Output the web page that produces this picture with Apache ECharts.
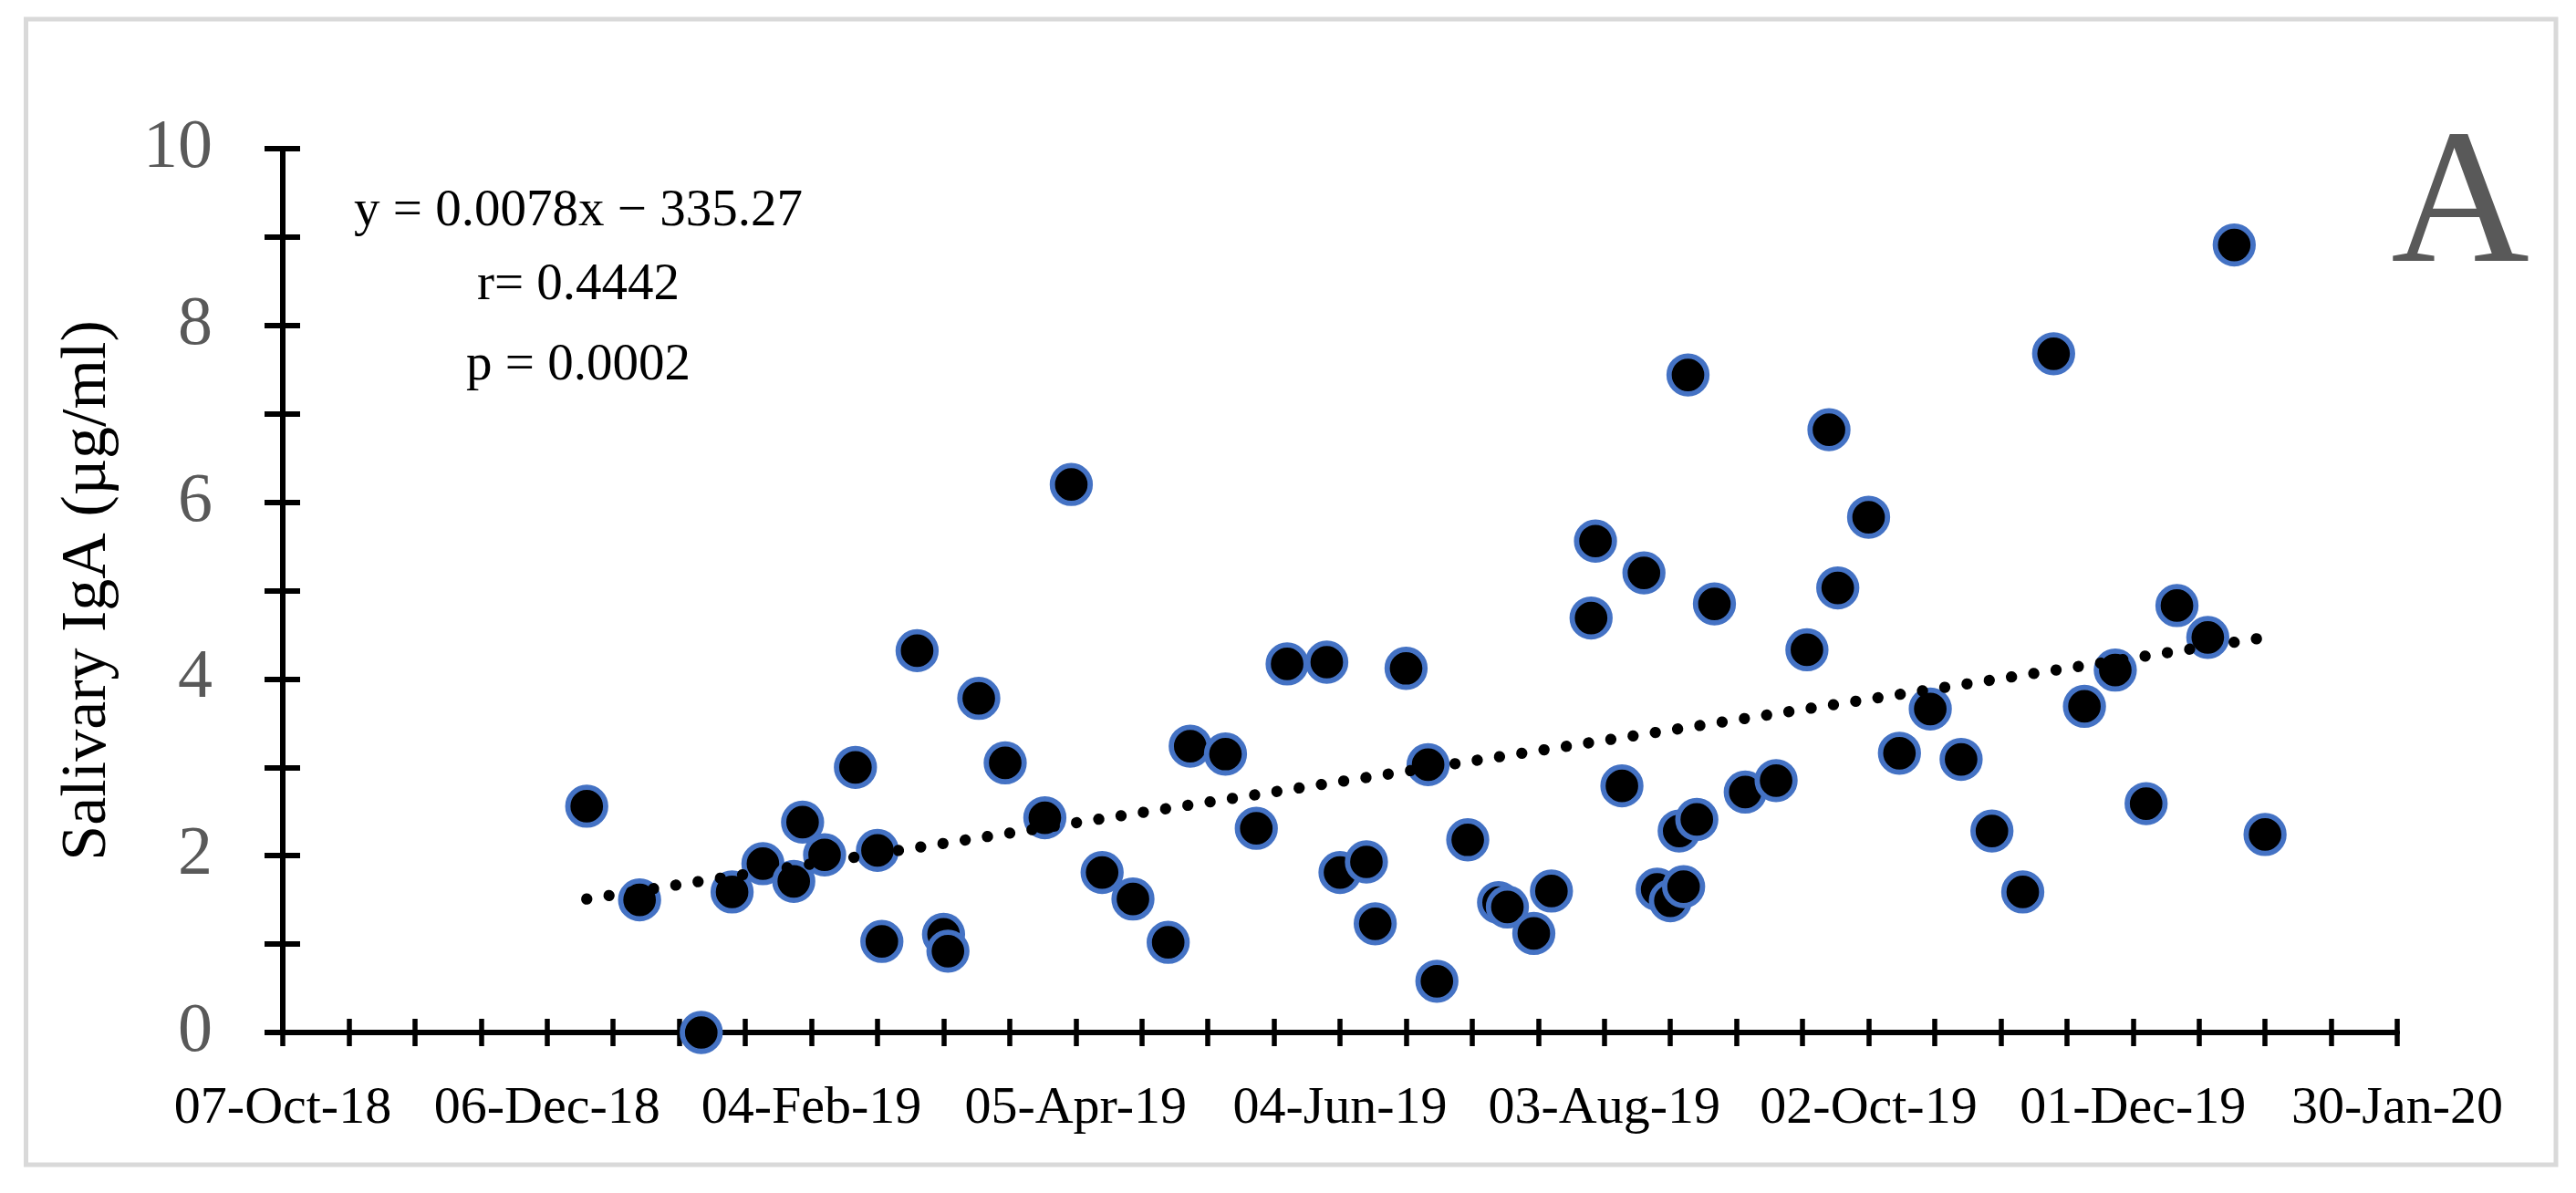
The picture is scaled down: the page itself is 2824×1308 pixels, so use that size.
<!DOCTYPE html>
<html>
<head>
<meta charset="utf-8">
<script src="https://cdn.jsdelivr.net/npm/echarts@6/dist/echarts.min.js"></script>
<style>
  html, body { margin: 0; padding: 0; background: #ffffff; }
  #chart { width: 2824px; height: 1308px; }
</style>
</head>
<body>
<div id="chart"></div>
<script>
// ---- data ----
const originDate = '2018-10-07';
const xTickLabels = ['07-Oct-18', '06-Dec-18', '04-Feb-19', '05-Apr-19', '04-Jun-19', '03-Aug-19', '02-Oct-19', '01-Dec-19', '30-Jan-20'];
const yTickLabels = ['0', '2', '4', '6', '8', '10'];

const sampleDates = ['2018-12-15','2018-12-27','2019-01-10','2019-01-17','2019-01-24','2019-01-31','2019-02-02','2019-02-07','2019-02-14','2019-02-19','2019-02-20','2019-02-28','2019-03-06','2019-03-07','2019-03-14','2019-03-20','2019-03-29','2019-04-04','2019-04-11','2019-04-18','2019-04-26','2019-05-01','2019-05-09','2019-05-16','2019-05-23','2019-06-01','2019-06-04','2019-06-10','2019-06-12','2019-06-19','2019-06-24','2019-06-26','2019-07-03','2019-07-10','2019-07-12','2019-07-18','2019-07-22','2019-07-31','2019-08-01','2019-08-07','2019-08-12','2019-08-15','2019-08-18','2019-08-20','2019-08-21','2019-08-22','2019-08-24','2019-08-28','2019-09-04','2019-09-11','2019-09-18','2019-09-23','2019-09-25','2019-10-02','2019-10-09','2019-10-16','2019-10-23','2019-10-30','2019-11-06','2019-11-13','2019-11-20','2019-11-27','2019-12-04','2019-12-11','2019-12-18','2019-12-24','2019-12-31'];
const igaValues = [2.56,1.50,0,1.59,1.91,1.71,2.38,2.01,3.00,2.06,1.03,4.32,1.11,0.92,3.78,3.05,2.43,6.20,1.81,1.51,1.02,3.24,3.15,2.31,4.17,4.19,1.81,1.93,1.23,4.12,3.03,0.58,2.18,1.47,1.42,1.12,1.60,4.69,5.56,2.79,5.20,1.62,1.49,2.28,1.65,7.44,2.41,4.85,2.72,2.85,4.33,6.82,5.03,5.83,3.16,3.66,3.09,2.28,1.59,7.68,3.69,4.10,2.59,4.83,4.47,8.91,2.24];

const trendDates = ['2018-12-15', '2019-12-31'];
const trendValues = [1.51, 4.47];

const annotationLines = ['y = 0.0078x \u2212 335.27', 'r= 0.4442', 'p = 0.0002'];
const panelLetter = 'A';
const yAxisTitle = 'Salivary IgA (\u00b5g/ml)';

// ---- helpers ----
const DAY = 86400000;
const originMs = Date.parse(originDate);
const dayOffset = d => (Date.parse(d) - originMs) / DAY;

const scatterData = sampleDates.map((d, i) => [dayOffset(d), igaValues[i]]);
const trendData = trendDates.map((d, i) => [dayOffset(d), trendValues[i]]);

const FONT = "'Liberation Serif', 'Times New Roman', serif";
const AXIS_COLOR = '#000000';

const xCommon = {
  type: 'value', min: 0, max: 480, interval: 15, position: 'bottom',
  splitLine: { show: false }
};
const yCommon = {
  type: 'value', min: 0, max: 10, interval: 1, position: 'left',
  splitLine: { show: false }
};

const chart = echarts.init(document.getElementById('chart'), null, { renderer: 'canvas' });

chart.setOption({
  animation: false,
  backgroundColor: '#ffffff',
  grid: { left: 310, right: 196, top: 163, bottom: 176, containLabel: false },
  xAxis: [
    Object.assign({}, xCommon, {
      axisLine: { show: true, onZero: false, lineStyle: { color: AXIS_COLOR, width: 6 } },
      axisTick: { show: true, inside: false, length: 15, lineStyle: { color: AXIS_COLOR, width: 5.5 } },
      axisLabel: {
        show: true, margin: 55, fontSize: 58, fontFamily: FONT, color: '#000000',
        formatter: v => (Math.round(v) % 60 === 0 ? xTickLabels[Math.round(v) / 60] : '')
      }
    }),
    Object.assign({}, xCommon, {
      axisLine: { show: false, onZero: false },
      axisTick: { show: true, inside: true, length: 15, lineStyle: { color: AXIS_COLOR, width: 5.5 } },
      axisLabel: { show: false }
    })
  ],
  yAxis: [
    Object.assign({}, yCommon, {
      axisLine: { show: true, onZero: false, lineStyle: { color: AXIS_COLOR, width: 6 } },
      axisTick: { show: true, inside: false, length: 20, lineStyle: { color: AXIS_COLOR, width: 6 } },
      axisLabel: {
        show: true, margin: 77, fontSize: 76, fontFamily: FONT, color: '#595959',
        formatter: v => (Math.round(v) % 2 === 0 ? yTickLabels[Math.round(v) / 2] : '')
      },
      name: yAxisTitle,
      nameLocation: 'middle',
      nameRotate: 90,
      nameGap: 178,
      nameTextStyle: { fontSize: 70, fontFamily: FONT, color: '#000000' }
    }),
    Object.assign({}, yCommon, {
      axisLine: { show: false, onZero: false },
      axisTick: { show: true, inside: true, length: 19, lineStyle: { color: AXIS_COLOR, width: 6 } },
      axisLabel: { show: false }
    })
  ],
  series: [
    {
      type: 'scatter',
      xAxisIndex: 0, yAxisIndex: 0,
      data: scatterData,
      symbol: 'circle',
      symbolSize: 41.5,
      itemStyle: { color: '#000000', borderColor: '#4472C4', borderWidth: 5.8, opacity: 1 },
      emphasis: { disabled: true },
      z: 3
    },
    {
      type: 'line',
      xAxisIndex: 0, yAxisIndex: 0,
      data: trendData,
      showSymbol: false,
      symbol: 'none',
      lineStyle: { color: '#000000', width: 12.3, type: [0.1, 24.6], cap: 'round', opacity: 1 },
      z: 4
    }
  ],
  graphic: [
    {
      type: 'rect', silent: true, z: 0,
      shape: { x: 28.5, y: 21, width: 2773.5, height: 1256 },
      style: { fill: 'none', stroke: '#D9D9D9', lineWidth: 5 }
    },
    {
      type: 'text', z: 10, x: 634, y: 232,
      style: { text: annotationLines[0], font: '57px ' + FONT, fill: '#000000', textAlign: 'center', textVerticalAlign: 'middle' }
    },
    {
      type: 'text', z: 10, x: 634, y: 313,
      style: { text: annotationLines[1], font: '57px ' + FONT, fill: '#000000', textAlign: 'center', textVerticalAlign: 'middle' }
    },
    {
      type: 'text', z: 10, x: 634, y: 401,
      style: { text: annotationLines[2], font: '57px ' + FONT, fill: '#000000', textAlign: 'center', textVerticalAlign: 'middle' }
    },
    {
      type: 'text', z: 10, x: 2697, y: 231,
      style: { text: panelLetter, font: '210px ' + FONT, fill: '#595959', textAlign: 'center', textVerticalAlign: 'middle' }
    }
  ]
});
</script>
</body>
</html>
